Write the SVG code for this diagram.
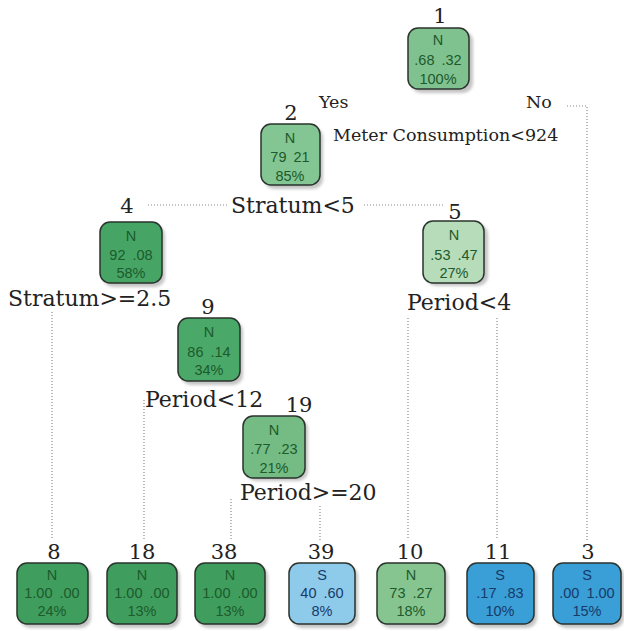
<svg xmlns="http://www.w3.org/2000/svg" width="624" height="631" viewBox="0 0 624 631">
<defs>
<filter id="sh" x="-20%" y="-20%" width="150%" height="150%"><feGaussianBlur stdDeviation="1.5"/></filter>
</defs>
<style>
.bx{stroke:#2a332d;stroke-width:1.5}
.sd{fill:#c4c4c4;filter:url(#sh)}
.t{font-family:"Liberation Sans",Arial,sans-serif;font-size:14.5px;text-anchor:middle;word-spacing:3px}
.g{fill:#1d5a2c}
.b{fill:#173a6a}
.num{font-family:"DejaVu Serif",serif;font-size:21px;fill:#222;text-anchor:middle}
.lab{font-family:"DejaVu Serif",serif;font-size:22px;fill:#222}
.sm{font-family:"DejaVu Serif",serif;font-size:17.5px;fill:#222}
.c{fill:none;stroke:#8a8a8a;stroke-width:1.2;stroke-dasharray:1 2}
</style>
<rect width="624" height="631" fill="#fff"/>
<g id="connectors">
<path class="c" d="M567 106 H587 V540"/>
<path class="c" d="M148 205 H229"/>
<path class="c" d="M364 205 H444"/>
<path class="c" d="M52 312 V540"/>
<path class="c" d="M144 400 V540"/>
<path class="c" d="M231 499 V540"/>
<path class="c" d="M320 506 V540"/>
<path class="c" d="M408 318 V540"/>
<path class="c" d="M497 318 V540"/>
</g>
<g id="labels">
<text class="sm" x="319" y="108">Yes</text>
<text class="sm" x="526" y="108">No</text>
<text class="sm" x="333" y="141">Meter Consumption&lt;924</text>
<text class="lab" x="231" y="213">Stratum&lt;5</text>
<text class="lab" x="8" y="306">Stratum&gt;=2.5</text>
<text class="lab" x="407" y="310">Period&lt;4</text>
<text class="lab" x="145" y="407">Period&lt;12</text>
<text class="lab" x="240" y="500">Period&gt;=20</text>
</g>
<g id="n1"><text class="num" x="440" y="23">1</text><rect class="sd" x="411" y="31" width="62" height="62" rx="10"/><rect class="bx" x="408" y="28" width="61" height="61" rx="10" fill="#80c28f"/><text class="t g" x="438" y="45">N</text><text class="t g" x="438" y="65">.68 .32</text><text class="t g" x="438" y="84">100%</text></g>
<g id="n2"><text class="num" x="291" y="120">2</text><rect class="sd" x="264" y="127" width="59" height="62" rx="10"/><rect class="bx" x="261" y="124" width="59" height="61" rx="10" fill="#83c693"/><text class="t g" x="290" y="143">N</text><text class="t g" x="290" y="162">79 21</text><text class="t g" x="290" y="181">85%</text></g>
<g id="n4"><text class="num" x="127" y="213">4</text><rect class="sd" x="103" y="225" width="62" height="62" rx="10"/><rect class="bx" x="100" y="222" width="62" height="61" rx="10" fill="#46a565"/><text class="t g" x="131" y="241">N</text><text class="t g" x="131" y="260">92 .08</text><text class="t g" x="131" y="278">58%</text></g>
<g id="n5"><text class="num" x="455" y="219">5</text><rect class="sd" x="426" y="224" width="62" height="62" rx="10"/><rect class="bx" x="423" y="221" width="61" height="62" rx="10" fill="#b6dcba"/><text class="t g" x="454" y="240">N</text><text class="t g" x="454" y="260">.53 .47</text><text class="t g" x="454" y="278">27%</text></g>
<g id="n9"><text class="num" x="208" y="314">9</text><rect class="sd" x="181" y="321" width="62" height="64" rx="10"/><rect class="bx" x="178" y="318" width="62" height="63" rx="10" fill="#4aa968"/><text class="t g" x="209" y="337">N</text><text class="t g" x="209" y="357">86 .14</text><text class="t g" x="209" y="375">34%</text></g>
<g id="n19"><text class="num" x="299" y="412">19</text><rect class="sd" x="246" y="419" width="62" height="62" rx="10"/><rect class="bx" x="243" y="416" width="62" height="62" rx="10" fill="#74bb84"/><text class="t g" x="274" y="435">N</text><text class="t g" x="274" y="454">.77 .23</text><text class="t g" x="274" y="473">21%</text></g>
<g id="n8"><text class="num" x="54" y="559">8</text><rect class="sd" x="20" y="566" width="71" height="62" rx="10"/><rect class="bx" x="17" y="563" width="71" height="61" rx="10" fill="#3f9e5d"/><text class="t g" x="52" y="580">N</text><text class="t g" x="52" y="598">1.00 .00</text><text class="t g" x="52" y="616">24%</text></g>
<g id="n18"><text class="num" x="142" y="559">18</text><rect class="sd" x="110" y="566" width="70" height="62" rx="10"/><rect class="bx" x="107" y="563" width="70" height="61" rx="10" fill="#3f9e5d"/><text class="t g" x="142" y="580">N</text><text class="t g" x="142" y="598">1.00 .00</text><text class="t g" x="142" y="616">13%</text></g>
<g id="n38"><text class="num" x="224" y="559">38</text><rect class="sd" x="198" y="566" width="70" height="62" rx="10"/><rect class="bx" x="195" y="563" width="70" height="61" rx="10" fill="#3f9e5d"/><text class="t g" x="230" y="580">N</text><text class="t g" x="230" y="598">1.00 .00</text><text class="t g" x="230" y="616">13%</text></g>
<g id="n39"><text class="num" x="321" y="559">39</text><rect class="sd" x="292" y="566" width="66" height="62" rx="10"/><rect class="bx" x="289" y="563" width="66" height="61" rx="10" fill="#8ecbea"/><text class="t b" x="322" y="580">S</text><text class="t b" x="322" y="598">40 .60</text><text class="t b" x="322" y="616">8%</text></g>
<g id="n10"><text class="num" x="410" y="559">10</text><rect class="sd" x="380" y="566" width="68" height="62" rx="10"/><rect class="bx" x="377" y="563" width="68" height="61" rx="10" fill="#86c58f"/><text class="t g" x="411" y="580">N</text><text class="t g" x="411" y="598">73 .27</text><text class="t g" x="411" y="616">18%</text></g>
<g id="n11"><text class="num" x="498" y="559">11</text><rect class="sd" x="470" y="566" width="67" height="62" rx="10"/><rect class="bx" x="467" y="563" width="67" height="61" rx="10" fill="#3a9fd6"/><text class="t b" x="500" y="580">S</text><text class="t b" x="500" y="598">.17 .83</text><text class="t b" x="500" y="616">10%</text></g>
<g id="n3"><text class="num" x="588" y="559">3</text><rect class="sd" x="556" y="566" width="68" height="62" rx="10"/><rect class="bx" x="553" y="563" width="68" height="61" rx="10" fill="#3a9fd6"/><text class="t b" x="587" y="580">S</text><text class="t b" x="587" y="598">.00 1.00</text><text class="t b" x="587" y="616">15%</text></g>
</svg>
